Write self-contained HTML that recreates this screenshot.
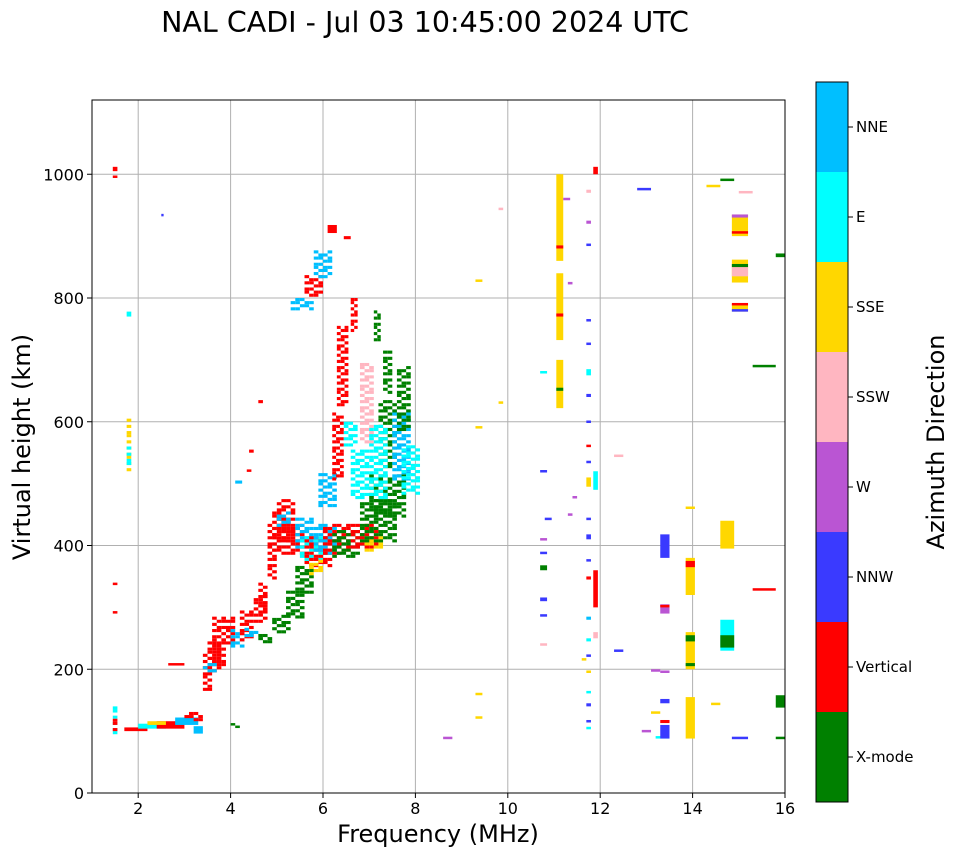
<!DOCTYPE html>
<html><head><meta charset="utf-8"><style>
body{margin:0;background:#fff;}
svg text{font-family:"DejaVu Sans","Liberation Sans",sans-serif;}
</style></head><body>
<svg id="chart" width="958" height="857" xmlns="http://www.w3.org/2000/svg">
<text x="425" y="32" font-size="28.5" text-anchor="middle">NAL CADI - Jul 03 10:45:00 2024 UTC</text>
<g id="grid"></g>
<g id="marks"></g>
<rect x="92" y="100" width="693" height="693" fill="none" stroke="#000" stroke-width="1"/>
<g id="axes"></g>
<text x="438" y="842" font-size="24" text-anchor="middle">Frequency (MHz)</text>
<text transform="translate(30,447) rotate(-90)" font-size="24" text-anchor="middle">Virtual height (km)</text>
<g id="cbar"></g>
<text transform="translate(944,442) rotate(-90)" font-size="24" text-anchor="middle">Azimuth Direction</text>
</svg>
<script>
const xTicks=[2,4,6,8,10,12,14,16];
const yTicks=[0,200,400,600,800,1000];
const dirNames=["X-mode","Vertical","NNW","W","SSW","SSE","E","NNE"];
const dirColors=["#008000","#ff0000","#3a3aff","#ba55d3","#ffb6c1","#ffd700","#00ffff","#00bfff"];
// [f0, f1, h0, h1, colorIndex]
const marks=[
[1.45,1.55,95,140,6],[1.45,1.55,100,120,1],[1.45,1.55,1005,1012,1],[1.45,1.55,995,998,1],[1.45,1.55,338,340,1],[1.45,1.55,292,294,1],
[1.75,1.85,515,610,5],[1.75,1.85,530,560,6],[1.75,1.85,770,778,6],
[1.7,2.2,100,106,1],[2.0,2.6,104,112,6],[2.4,3.0,104,116,1],[2.8,3.3,110,122,7],[3.0,3.4,116,132,1],[2.2,2.6,110,116,5],[3.2,3.4,96,108,7],
[3.4,3.6,165,225,1],[3.5,3.8,195,245,1],[3.6,3.9,205,285,1],[3.4,3.7,195,212,7],[3.9,4.1,235,285,1],[4.0,4.3,235,265,7],[4.2,4.5,245,295,1],[4.3,4.6,252,268,7],[4.5,4.8,275,320,1],[4.6,4.8,295,340,1],
[4.8,5.0,345,435,1],[4.9,5.2,385,455,1],[5.0,5.4,405,475,1],[5.0,5.3,430,455,7],[5.2,5.6,385,435,1],[5.4,5.8,395,445,7],[5.5,6.0,375,415,6],[5.6,6.2,365,415,1],[5.8,6.3,385,435,7],[6.0,6.6,385,435,1],[6.2,6.8,380,425,0],[6.6,7.2,395,435,1],[6.9,7.3,390,415,5],
[4.6,4.9,242,258,0],[4.9,5.3,258,288,0],[5.2,5.6,282,328,0],[5.4,5.8,322,368,0],[5.7,6.0,352,378,5],[6.8,7.6,405,475,0],[7.0,7.8,445,515,0],[7.2,7.6,525,635,0],[7.3,7.5,645,715,0],[7.1,7.25,725,780,0],
[5.9,6.3,462,515,7],[6.2,6.45,505,615,1],[6.3,6.55,625,755,1],[6.45,6.75,560,600,6],[6.6,7.0,475,555,6],[6.8,7.1,565,695,4],[7.0,7.4,475,595,6],[7.5,7.9,505,615,7],[7.7,8.1,482,560,6],[7.6,7.9,585,690,0],
[5.3,5.8,780,800,7],[5.6,6.0,802,838,1],[5.8,6.2,832,878,7],[6.1,6.3,905,918,1],[6.45,6.6,895,900,1],[6.6,6.75,745,800,1],
[4.1,4.25,500,505,7],[4.4,4.5,550,555,1],[4.35,4.45,520,523,1],[4.6,4.7,630,635,1],[2.5,2.55,933,936,2],[2.65,3.0,208,210,1],[4.0,4.1,110,113,0],[4.1,4.2,106,109,0],
[9.3,9.45,828,830,5],[9.8,9.9,943,946,4],[9.8,9.9,630,633,5],[9.3,9.45,590,593,5],[9.3,9.45,160,162,5],[9.3,9.45,122,124,5],[8.6,8.8,89,91,3],
[10.7,10.85,520,522,2],[10.8,10.95,443,445,2],[10.7,10.85,410,412,3],[10.7,10.85,388,390,2],[10.7,10.85,360,368,0],[10.7,10.85,310,316,2],[10.7,10.85,287,289,2],[10.7,10.85,240,242,4],[10.7,10.85,680,682,6],
[11.05,11.2,860,1000,5],[11.05,11.2,732,840,5],[11.05,11.2,622,700,5],[11.05,11.2,880,885,1],[11.05,11.2,770,775,1],[11.05,11.2,650,655,0],[11.2,11.35,958,962,3],[11.3,11.4,823,826,3],[11.4,11.5,478,480,3],[11.3,11.4,450,452,3],
[11.7,11.8,970,975,4],[11.7,11.8,920,925,3],[11.7,11.8,885,888,2],[11.7,11.8,763,766,2],[11.7,11.8,725,728,2],[11.7,11.8,675,685,6],[11.7,11.8,640,645,2],[11.7,11.8,600,602,2],[11.7,11.8,560,563,1],[11.7,11.8,535,537,2],[11.7,11.8,495,510,5],[11.7,11.8,443,445,2],[11.7,11.8,410,418,2],[11.7,11.8,375,378,2],[11.7,11.8,345,350,1],[11.7,11.8,280,285,7],[11.7,11.8,245,250,6],[11.7,11.8,222,224,2],[11.7,11.8,195,198,5],[11.7,11.8,162,165,6],[11.7,11.8,140,145,2],[11.7,11.8,115,118,2],[11.7,11.8,103,107,6],
[11.85,11.95,1000,1012,1],[11.85,11.95,490,520,6],[11.85,11.95,300,360,1],[11.85,11.95,250,260,4],[11.6,11.7,215,218,5],[12.3,12.5,545,547,4],[12.3,12.5,228,232,2],[12.8,13.1,975,978,2],[12.9,13.1,100,102,3],
[13.2,13.5,88,92,6],[13.1,13.3,197,200,3],[13.3,13.5,195,198,3],[13.1,13.3,130,132,5],[13.3,13.5,380,418,2],[13.3,13.5,290,305,3],[13.3,13.5,300,304,1],[13.3,13.5,88,110,2],[13.3,13.5,113,118,1],[13.3,13.5,145,152,2],
[13.85,14.05,320,380,5],[13.85,14.05,365,375,1],[13.85,14.05,200,260,5],[13.85,14.05,88,155,5],[13.85,14.05,460,463,5],[13.85,14.05,245,255,0],[13.85,14.05,205,210,0],
[14.3,14.6,980,983,5],[14.6,14.9,990,993,0],[14.6,14.9,395,440,5],[14.6,14.9,230,280,6],[14.6,14.9,235,255,0],[14.4,14.6,143,146,5],
[14.85,15.2,900,935,5],[14.85,15.2,930,935,3],[14.85,15.2,905,908,1],[14.85,15.2,825,862,5],[14.85,15.2,835,850,4],[14.85,15.2,850,855,0],[14.85,15.2,778,790,5],[14.85,15.2,778,782,2],[14.85,15.2,790,792,1],[15.0,15.3,970,973,4],[14.85,15.2,88,91,2],
[15.3,15.8,688,692,0],[15.3,15.8,328,331,1],[15.8,16,866,872,0],[15.8,16,138,158,0],[15.8,16,88,91,0]
];
const NS="http://www.w3.org/2000/svg";
const X0=92,X1=785,Y0=793,Y1=100,FMIN=1,FMAX=16,HMIN=0,HMAX=1120;
function xs(f){return X0+(f-FMIN)/(FMAX-FMIN)*(X1-X0);}
function ys(h){return Y0-(h-HMIN)/(HMAX-HMIN)*(Y0-Y1);}
function mk(tag,attrs,parent){const e=document.createElementNS(NS,tag);for(const k in attrs)e.setAttribute(k,attrs[k]);parent.appendChild(e);return e;}
const grid=document.getElementById('grid'),axes=document.getElementById('axes'),mg=document.getElementById('marks'),cb=document.getElementById('cbar');
xTicks.forEach(t=>{const x=xs(t);
 const g=mk('line',{x1:x,x2:x,y1:Y1,y2:Y0,stroke:'#b0b0b0','stroke-width':1},grid);
 
 
 const tk=mk('line',{x1:x,x2:x,y1:Y0,y2:Y0+5,stroke:'#000'},axes);
 
 
 const tx=mk('text',{x:x,y:Y0+21,'font-size':16,'text-anchor':'middle'},axes);tx.textContent=t;
 
 
});
yTicks.forEach(t=>{const y=ys(t);
 const g=mk('line',{x1:X0,x2:X1,y1:y,y2:y,stroke:'#b0b0b0','stroke-width':1},grid);
 
 
 const tk=mk('line',{x1:X0-5,x2:X0,y1:y,y2:y,stroke:'#000'},axes);
 
 
 const tx=mk('text',{x:X0-8,y:y+6,'font-size':16,'text-anchor':'end'},axes);tx.textContent=t;
 
 
});
const CF=0.1,CH=5;
marks.forEach((m,k)=>{
 if(m[3]-m[2]<15 || m[0]>9){
  const x=xs(m[0]),w=xs(m[1])-x,y=ys(m[3]),h=Math.max(2.5,ys(m[2])-y);
  const r=mk('rect',{x:x,y:y,width:w,height:h,fill:dirColors[m[4]]},mg);
  
  
  return;
 }
 const nf=Math.max(1,Math.round((m[1]-m[0])/CF)),nh=Math.round((m[3]-m[2])/CH);
 for(let i=0;i<nf;i++)for(let j=0;j<nh;j++){
  if(((i*5+j*3+k)%7)>3) continue;
  const f0=m[0]+i*(m[1]-m[0])/nf,f1=m[0]+(i+1)*(m[1]-m[0])/nf,h0=m[2]+j*CH;
  const x=xs(f0),y=ys(h0+CH);
  const r=mk('rect',{x:x,y:y,width:xs(f1)-x,height:ys(h0)-y,fill:dirColors[m[4]]},mg);
  
  
 }
});
const CX=816,CW=32,CT=82,CB=802,seg=(CB-CT)/dirNames.length;
dirNames.forEach((n,i)=>{const y=CB-(i+1)*seg;
 const r=mk('rect',{x:CX,y:y,width:CW,height:seg,fill:dirColors[i]},cb);
 
 
 const tk=mk('line',{x1:CX+CW,x2:CX+CW+5,y1:y+seg/2,y2:y+seg/2,stroke:'#000'},cb);
 
 
 const tx=mk('text',{x:CX+CW+8,y:y+seg/2+5,'font-size':15},cb);tx.textContent=n;
 
 
});
const fr=mk('rect',{x:CX,y:CT,width:CW,height:CB-CT,fill:'none',stroke:'#000'},cb);


</script>
</body></html>
